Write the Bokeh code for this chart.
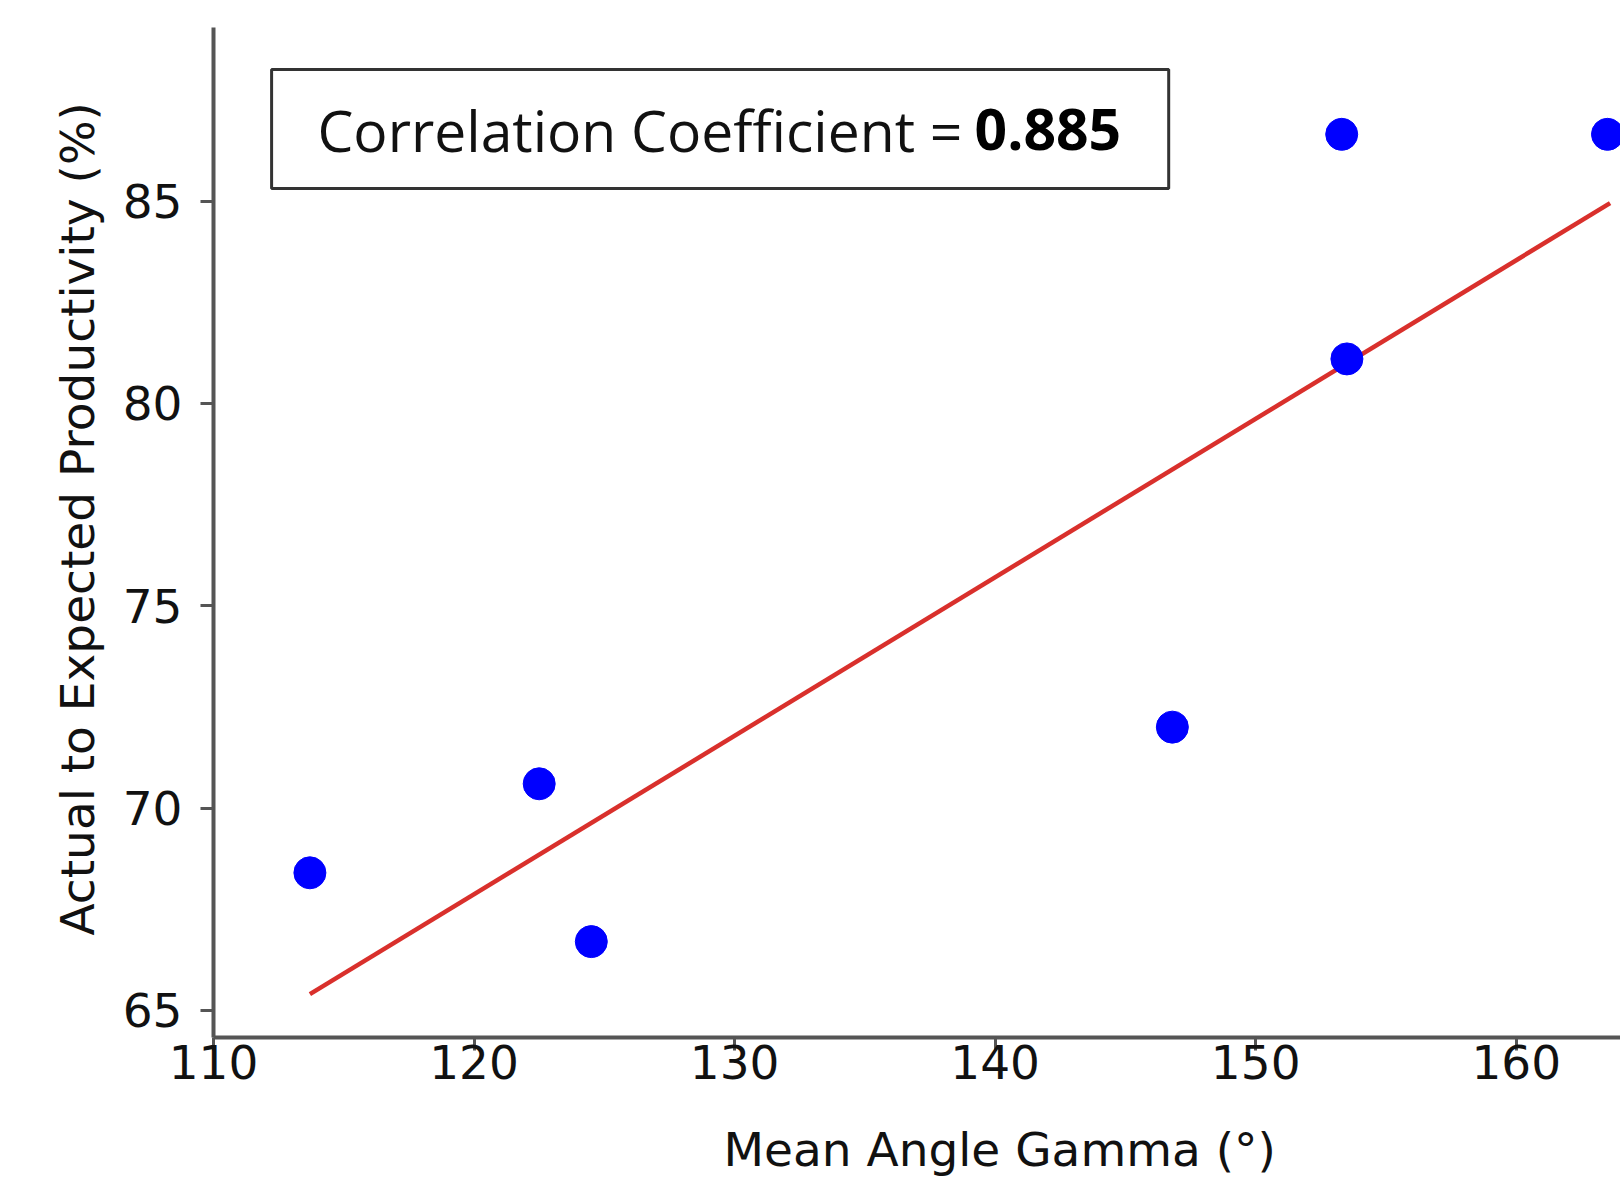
from bokeh.plotting import figure
from bokeh.models import Range1d, FixedTicker, BoxAnnotation, Label, Title
from bokeh.embed import file_html
from bokeh.resources import INLINE

# ---- data ----
gamma = [113.7, 122.5, 124.5, 146.8, 153.3, 153.5, 163.5]
productivity = [68.4, 70.6, 66.7, 72.0, 86.65, 81.1, 86.65]
fit_x = [113.7, 163.6]
fit_y = [65.4, 84.95]
x_ticks = [110, 120, 130, 140, 150, 160]
y_ticks = [65, 70, 75, 80, 85]
corr_label = "Correlation Coefficient ="
corr_value = "0.885"
x_title = "Mean Angle Gamma (°)"
y_title = "Actual to Expected Productivity (%)"

FONT = "DejaVu Sans"

p = figure(frame_width=1407, frame_height=1010,
           min_border_left=213, min_border_right=0,
           min_border_top=27, min_border_bottom=0,
           x_range=Range1d(110, 164.0), y_range=Range1d(64.33, 89.29),
           output_backend="svg", toolbar_location=None,
           background_fill_color="white", border_fill_color="white")
p.outline_line_color = None
p.xgrid.visible = False
p.ygrid.visible = False

for ax in (p.xaxis[0], p.yaxis[0]):
    ax.axis_line_color = "#555555"
    ax.axis_line_width = 4
    ax.major_tick_line_color = "#555555"
    ax.major_tick_line_width = 3
    ax.major_tick_in = 0
    ax.major_tick_out = 13
    ax.minor_tick_line_color = None
    ax.major_label_text_font = FONT
    ax.major_label_text_font_size = "47px"
    ax.major_label_text_color = "#111111"

p.xaxis.ticker = FixedTicker(ticks=x_ticks)
p.yaxis.ticker = FixedTicker(ticks=y_ticks)
p.xaxis.major_label_standoff = -6
p.yaxis.major_label_standoff = 18

# spacer between x tick labels and the x title
p.xaxis.axis_label = " "
p.xaxis.axis_label_text_font_size = "1px"
p.xaxis.axis_label_standoff = 34

# axis titles, offset to sit where the reference puts them
p.add_layout(Title(text=y_title, align="left", offset=102, standoff=30,
                   text_font=FONT, text_font_size="47px",
                   text_font_style="normal", text_color="#111111"), "left")
p.add_layout(Title(text=x_title, align="left", offset=510, standoff=4,
                   vertical_align="top",
                   text_font=FONT, text_font_size="47px",
                   text_font_style="normal", text_color="#111111"), "below")

# regression line and points
p.line(fit_x, fit_y, line_color="#d9302c", line_width=4.5)
p.scatter(gamma, productivity, size=32, fill_color="#0000ff", line_color="#0000ff")

# correlation box
p.add_layout(BoxAnnotation(left=112.23, right=146.66, bottom=85.31, top=88.25,
                           fill_color="white", fill_alpha=1.0,
                           line_color="#333333", line_alpha=1.0, line_width=3))
p.add_layout(Label(x=113.99, y=86.76, text=corr_label, text_font="Open Sans",
                   text_font_size="57px", text_align="left",
                   text_baseline="alphabetic", text_color="#111111"))
p.add_layout(Label(x=139.21, y=86.76, text=corr_value, text_font="Open Sans",
                   text_font_size="57px", text_font_style="bold", text_align="left",
                   text_baseline="alphabetic", text_color="#000000"))

open("out.html", "w").write(file_html(p, INLINE))
